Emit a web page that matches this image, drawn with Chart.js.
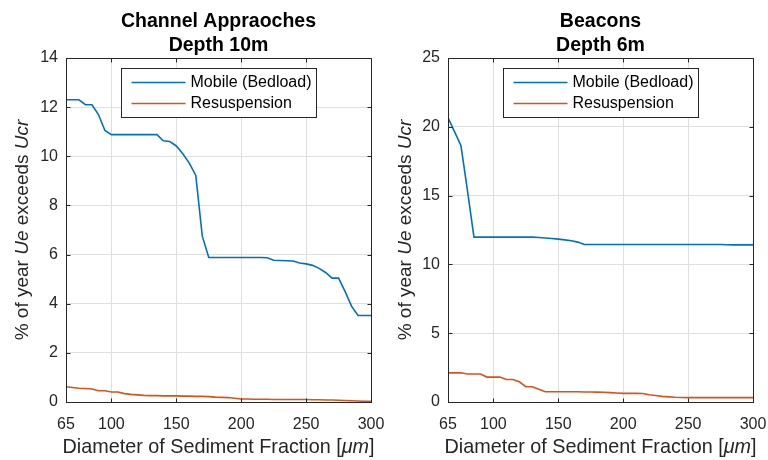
<!DOCTYPE html>
<html>
<head>
<meta charset="utf-8">
<script src="https://cdn.jsdelivr.net/npm/chart.js@4.4.1/dist/chart.umd.min.js"></script>
<style>
html,body{margin:0;padding:0;background:#fff;}
#wrap{position:relative;width:768px;height:460px;overflow:hidden;}
canvas{position:absolute;top:0;}
#c1{left:0;} #c2{left:384px;}
</style>
</head>
<body>
<div id="wrap">
<canvas id="c1" width="384" height="460"></canvas>
<canvas id="c2" width="384" height="460"></canvas>
</div>
<script>
// ---- data ----
const diameters = [65,70,75,80,85,90,95,100,105,110,115,120,125,130,135,140,145,150,155,160,165,170,175,180,185,190,195,200,205,210,215,220,225,230,235,240,245,250,255,260,265,270,275,280,285,290,295,300];

const channelMobile = [12.3,12.3,12.3,12.1,12.1,11.7,11.05,10.88,10.88,10.88,10.88,10.88,10.88,10.88,10.88,10.63,10.6,10.42,10.1,9.72,9.22,6.75,5.88,5.88,5.88,5.88,5.88,5.88,5.88,5.88,5.88,5.87,5.77,5.76,5.75,5.74,5.66,5.62,5.56,5.44,5.27,5.04,5.04,4.5,3.9,3.52,3.52,3.52];
const channelResusp = [0.62,0.59,0.56,0.55,0.53,0.46,0.46,0.41,0.41,0.34,0.31,0.29,0.27,0.26,0.26,0.25,0.25,0.25,0.24,0.24,0.23,0.23,0.22,0.2,0.19,0.18,0.15,0.12,0.12,0.11,0.11,0.11,0.1,0.1,0.1,0.1,0.1,0.1,0.09,0.09,0.08,0.08,0.07,0.06,0.05,0.04,0.03,0.03];

const beaconsMobile = [20.67,19.65,18.62,15.36,11.98,11.98,11.98,11.98,11.98,11.98,11.98,11.98,11.98,11.98,11.95,11.92,11.88,11.84,11.78,11.72,11.62,11.45,11.45,11.45,11.45,11.45,11.45,11.45,11.45,11.45,11.45,11.45,11.45,11.45,11.45,11.45,11.45,11.45,11.45,11.45,11.45,11.45,11.45,11.43,11.42,11.42,11.42,11.42];
const beaconsResusp = [2.12,2.12,2.12,2.03,2.03,2.03,1.81,1.81,1.81,1.64,1.64,1.47,1.11,1.11,0.93,0.75,0.75,0.75,0.75,0.74,0.74,0.73,0.73,0.72,0.71,0.68,0.65,0.63,0.63,0.63,0.62,0.53,0.47,0.41,0.37,0.34,0.33,0.32,0.32,0.32,0.32,0.32,0.32,0.32,0.32,0.32,0.32,0.32];

const xTicks = [65,100,150,200,250,300];
const seriesLabels = ['Mobile (Bedload)','Resuspension'];
const titles1 = ['Channel Appraoches','Depth 10m'];
const titles2 = ['Beacons','Depth 6m'];
const xTitleParts = [['Diameter of Sediment Fraction [',false],['\u03bcm',true],[']',false]];
const yTitleParts = [['% of year ',false],['Ue',true],[' exceeds ',false],['Ucr',true]];

const FONT = "'Liberation Sans', Arial, Helvetica, sans-serif";
const BLUE = '#0072BD', ORANGE = '#D95319', AXIS = '#262626';

function drawParts(ctx, parts, size, cx, y) {
  let total = 0;
  const widths = parts.map(([t,it]) => { ctx.font = (it?'italic ':'') + size + 'px ' + FONT; const w = ctx.measureText(t).width; total += w; return w; });
  let x = cx - total/2;
  parts.forEach(([t,it],i) => { ctx.font = (it?'italic ':'') + size + 'px ' + FONT; ctx.fillText(t, x, y); x += widths[i]; });
}

const framePlugin = {
  id: 'frame',
  afterDraw(chart, args, o) {
    const ctx = chart.ctx, a = chart.chartArea;
    const xs = chart.scales.x, ys = chart.scales.y;
    ctx.save();
    ctx.strokeStyle = AXIS; ctx.lineWidth = 1;
    const L = Math.round(a.left)+0.5, R = Math.round(a.right)+0.5, T = Math.round(a.top)+0.5, B = Math.round(a.bottom)+0.5;
    ctx.beginPath();
    xs.ticks.forEach(t => { const px = Math.round(xs.getPixelForValue(t.value))+0.5; ctx.moveTo(px,B); ctx.lineTo(px,B-4); ctx.moveTo(px,T); ctx.lineTo(px,T+4); });
    ys.ticks.forEach(t => { const py = Math.round(ys.getPixelForValue(t.value))+0.5; ctx.moveTo(L,py); ctx.lineTo(L+4,py); ctx.moveTo(R,py); ctx.lineTo(R-4,py); });
    ctx.stroke();
    ctx.strokeRect(L, T, R-L, B-T);

    // legend
    const bx = Math.round(a.left + 55)+0.5, by = Math.round(a.top + 10)+0.5, bw = 195, bh = 49;
    ctx.fillStyle = '#fff'; ctx.fillRect(bx, by, bw, bh);
    ctx.strokeStyle = AXIS; ctx.strokeRect(bx, by, bw, bh);
    chart.data.datasets.forEach((ds, i) => {
      const ly = by + 14 + i*21;
      ctx.strokeStyle = ds.borderColor; ctx.lineWidth = 1.6;
      ctx.beginPath(); ctx.moveTo(bx+10, ly); ctx.lineTo(bx+64, ly); ctx.stroke();
      ctx.fillStyle = '#000'; ctx.font = '16px ' + FONT; ctx.textBaseline = 'middle'; ctx.textAlign = 'left';
      ctx.fillText(ds.label, bx+69, ly+0.5);
    });

    // titles
    const cx = (a.left + a.right)/2;
    ctx.fillStyle = '#000'; ctx.textAlign = 'left'; ctx.textBaseline = 'alphabetic';
    ctx.font = 'bold 19.5px ' + FONT;
    o.title.forEach((t, i) => { const w = ctx.measureText(t).width; ctx.fillText(t, cx - w/2, 27 + i*24); });

    // x title
    ctx.fillStyle = '#262626';
    drawParts(ctx, xTitleParts, 19.8, cx, 453);
    // y title
    ctx.save();
    ctx.translate(o.yTitleX, (a.top + a.bottom)/2);
    ctx.rotate(-Math.PI/2);
    drawParts(ctx, yTitleParts, 19, 0, 0);
    ctx.restore();
    ctx.restore();
  }
};

function makeChart(id, mobile, resusp, ymax, ystep, yWidth, padRight, title, yTitleX) {
  return new Chart(document.getElementById(id), {
    type: 'line',
    data: {
      datasets: [
        { label: seriesLabels[0], data: diameters.map((d,i)=>({x:d,y:mobile[i]})), borderColor: BLUE, borderWidth: 1.6, pointRadius: 0, fill: false, tension: 0 },
        { label: seriesLabels[1], data: diameters.map((d,i)=>({x:d,y:resusp[i]})), borderColor: ORANGE, borderWidth: 1.6, pointRadius: 0, fill: false, tension: 0 }
      ]
    },
    options: {
      responsive: false, animation: false, devicePixelRatio: 1,
      layout: { padding: { left: 0, top: 58, right: padRight, bottom: 0 } },
      plugins: { legend: { display: false }, tooltip: { enabled: false }, frame: { title: title, yTitleX: yTitleX } },
      scales: {
        x: {
          type: 'linear', min: 65, max: 300,
          afterBuildTicks: s => { s.ticks = xTicks.map(v => ({ value: v })); },
          afterFit: s => { s.height = 58; s.paddingLeft = 0; s.paddingRight = 0; },
          grid: { color: '#dfdfdf', drawTicks: false, lineWidth: 1 },
          border: { display: false },
          ticks: { color: '#262626', font: { family: FONT, size: 16 }, padding: 13, maxRotation: 0, autoSkip: false }
        },
        y: {
          min: 0, max: ymax,
          afterFit: s => { s.width = yWidth; s.paddingTop = 0; s.paddingBottom = 0; },
          grid: { color: '#dfdfdf', drawTicks: false, lineWidth: 1 },
          border: { display: false },
          ticks: { stepSize: ystep, color: '#262626', font: { family: FONT, size: 16 }, padding: 8 }
        }
      }
    },
    plugins: [framePlugin]
  });
}

makeChart('c1', channelMobile, channelResusp, 14, 2, 66, 13, titles1, 28);
makeChart('c2', beaconsMobile, beaconsResusp, 25, 5, 64, 15, titles2, 27);
</script>
</body>
</html>
